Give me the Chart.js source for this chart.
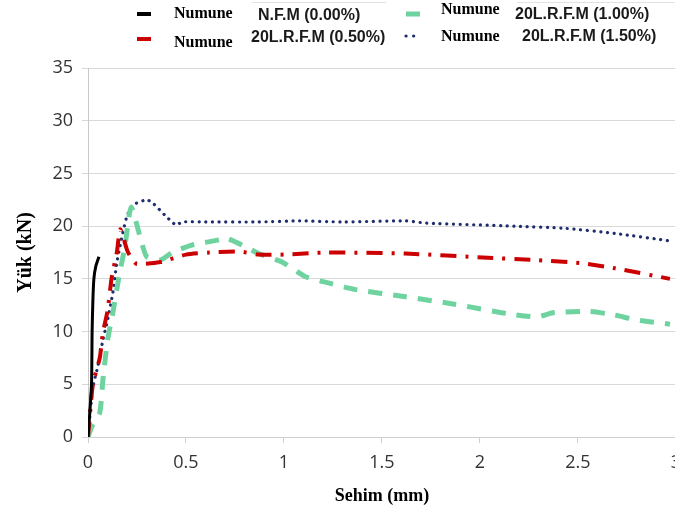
<!DOCTYPE html>
<html>
<head>
<meta charset="utf-8">
<script src="https://cdn.jsdelivr.net/npm/chart.js@4/dist/chart.umd.min.js"></script>
<style>
  html, body { margin: 0; padding: 0; overflow: hidden; background: #fff; }
  canvas { display: block; }
</style>
</head>
<body>
<canvas id="grafico" width="690" height="516" style="width:690px;height:516px"></canvas>
<script>
// Yük - sehim eğrileri (x: sehim mm, y: yük kN)
const nfmX = [0, 0.008, 0.018, 0.021, 0.025, 0.03, 0.04, 0.056];
const nfmY = [0, 2, 5, 10, 13, 15, 16.2, 17.1];

const r050X = [0, 0.025, 0.06, 0.076, 0.1, 0.12, 0.147, 0.165, 0.2, 0.22, 0.25, 0.37, 0.5, 0.62, 0.77, 0.87, 1.0, 1.21, 1.62, 2.04, 2.26, 2.51, 2.69, 2.97];
const r050Y = [0, 5, 7.5, 9.9, 12, 15, 17.5, 19.7, 17.7, 17, 16.4, 16.6, 17.3, 17.5, 17.6, 17.3, 17.3, 17.5, 17.4, 17.0, 16.8, 16.5, 16.0, 15.0];

const r100X = [0, 0.02, 0.06, 0.076, 0.1, 0.127, 0.147, 0.162, 0.188, 0.22, 0.27, 0.3, 0.37, 0.43, 0.53, 0.67, 0.7, 0.81, 0.87, 0.99, 1.11, 1.23, 1.36, 1.62, 1.87, 2.14, 2.29, 2.38, 2.56, 2.68, 2.8, 2.97];
const r100Y = [0, 1, 2.3, 5.4, 9.2, 11.8, 14, 15.6, 18, 21.8, 18.7, 17.1, 16.8, 17.5, 18.2, 18.7, 18.9, 18, 17.4, 16.6, 15.2, 14.6, 14.0, 13.3, 12.6, 11.7, 11.4, 11.8, 11.9, 11.6, 11.1, 10.7];

const r150X = [0, 0.025, 0.05, 0.076, 0.1, 0.127, 0.147, 0.17, 0.198, 0.23, 0.3, 0.33, 0.4, 0.45, 0.48, 0.6, 0.87, 1.08, 1.3, 1.62, 1.72, 2.18, 2.43, 2.69, 2.97];
const r150Y = [0, 4.7, 6.7, 9.2, 11.1, 13.7, 16.5, 18.7, 20.9, 22.0, 22.5, 22.2, 20.9, 20.1, 20.4, 20.4, 20.4, 20.5, 20.4, 20.5, 20.3, 20.0, 19.8, 19.3, 18.6];

const etiketler = [
  'Numune N.F.M (0.00%)',
  'Numune 20L.R.F.M (0.50%)',
  'Numune 20L.R.F.M (1.00%)',
  'Numune 20L.R.F.M (1.50%)'
];

const eslestir = (xs, ys) => xs.map((x, i) => ({ x: x, y: ys[i] }));

// legend yerleşimi: işaret, "Numune" ve numune adı
const legendaYer = [
  { mx: 137, my: 14, nx: 174, ny: 14, tx: 258, ty: 16, tw: 107 },
  { mx: 137, my: 39, nx: 174, ny: 43, tx: 251, ty: 38, tw: 143 },
  { mx: 406, my: 14, nx: 441, ny: 10, tx: 515, ty: 15, tw: 143 },
  { mx: 406, my: 36, nx: 441, ny: 37, tx: 522, ty: 37, tw: 143 }
];

const legendaTopo = {
  id: 'legendaTopo',
  afterDraw(chart) {
    const ctx = chart.ctx;
    ctx.save();
    // üstteki soluk tablo çizgileri
    ctx.strokeStyle = '#e2e2e2';
    ctx.lineWidth = 1;
    ctx.beginPath();
    ctx.moveTo(252, 2.5); ctx.lineTo(386, 2.5);
    ctx.moveTo(517, 2.5); ctx.lineTo(675, 2.5);
    ctx.stroke();

    chart.data.datasets.forEach((ds, i) => {
      const p = legendaYer[i];
      ctx.strokeStyle = ds.borderColor;
      ctx.lineWidth = ds.legendWidth;
      ctx.lineCap = ds.borderCapStyle || 'butt';
      ctx.setLineDash(ds.legendDash || []);
      ctx.beginPath();
      ctx.moveTo(p.mx, p.my);
      ctx.lineTo(p.mx + 14, p.my);
      ctx.stroke();
      ctx.setLineDash([]);

      const ayir = ds.label.indexOf(' ');
      ctx.textBaseline = 'middle';
      ctx.textAlign = 'left';
      ctx.fillStyle = '#000';
      ctx.font = 'bold 16px "Liberation Serif", "Times New Roman", serif';
      ctx.fillText(ds.label.slice(0, ayir), p.nx, p.ny);
      ctx.fillStyle = '#1a1a1a';
      ctx.font = 'bold 16px "Liberation Sans", Arial, sans-serif';
      ctx.fillText(ds.label.slice(ayir + 1), p.tx, p.ty, p.tw);
    });
    ctx.restore();
  }
};

const ctx = document.getElementById('grafico').getContext('2d');

const grafico = new Chart(ctx, {
  type: 'line',
  data: {
    datasets: [
      {
        label: etiketler[0],
        data: eslestir(nfmX, nfmY),
        borderColor: '#000000',
        borderWidth: 3,
        legendWidth: 4,
        tension: 0.2
      },
      {
        label: etiketler[1],
        data: eslestir(r050X, r050Y),
        borderColor: '#cc0000',
        borderWidth: 4,
        borderDash: [16, 9, 3, 9],
        legendWidth: 4,
        tension: 0.2
      },
      {
        label: etiketler[2],
        data: eslestir(r100X, r100Y),
        borderColor: '#6fd3a0',
        borderWidth: 5,
        borderDash: [14, 11],
        legendWidth: 5,
        tension: 0.2
      },
      {
        label: etiketler[3],
        data: eslestir(r150X, r150Y),
        borderColor: '#1f2d6e',
        borderWidth: 3.2,
        borderDash: [0.1, 6.6],
        borderCapStyle: 'round',
        legendWidth: 3.2,
        legendDash: [0.1, 7.5],
        tension: 0.2
      }
    ]
  },
  options: {
    responsive: false,
    devicePixelRatio: 1,
    animation: false,
    layout: { padding: { top: 68, left: 0, right: 13, bottom: 0 } },
    elements: { point: { radius: 0 } },
    scales: {
      x: {
        type: 'linear',
        min: 0,
        max: 3,
        ticks: {
          stepSize: 0.5,
          padding: 9,
          color: '#333333',
          font: { family: '"Open Sans", sans-serif', size: 18 },
          callback: (v) => String(v)
        },
        grid: { drawOnChartArea: false, tickLength: 6, color: '#cfcfcf' },
        border: { color: '#cfcfcf' },
        title: {
          display: true,
          text: 'Sehim (mm)',
          color: '#000',
          padding: { top: 0, bottom: 9 },
          font: { family: '"Liberation Serif", "Times New Roman", serif', size: 18, weight: 'bold' }
        },
        afterFit(scale) { scale.height = 79; }
      },
      y: {
        min: 0,
        max: 35,
        ticks: {
          stepSize: 5,
          padding: 9,
          color: '#333333',
          font: { family: '"Open Sans", sans-serif', size: 18 }
        },
        grid: { color: '#d9d9d9', tickLength: 6 },
        border: { color: '#c8c8c8' },
        title: {
          display: true,
          text: 'Yük (kN)',
          color: '#000',
          padding: { top: 14, bottom: 0 },
          font: { family: '"Liberation Serif", "Times New Roman", serif', size: 20, weight: 'bold' }
        },
        afterFit(scale) { scale.width = 88; }
      }
    },
    plugins: {
      legend: { display: false },
      tooltip: { enabled: false }
    }
  },
  plugins: [legendaTopo]
});
</script>
</body>
</html>
